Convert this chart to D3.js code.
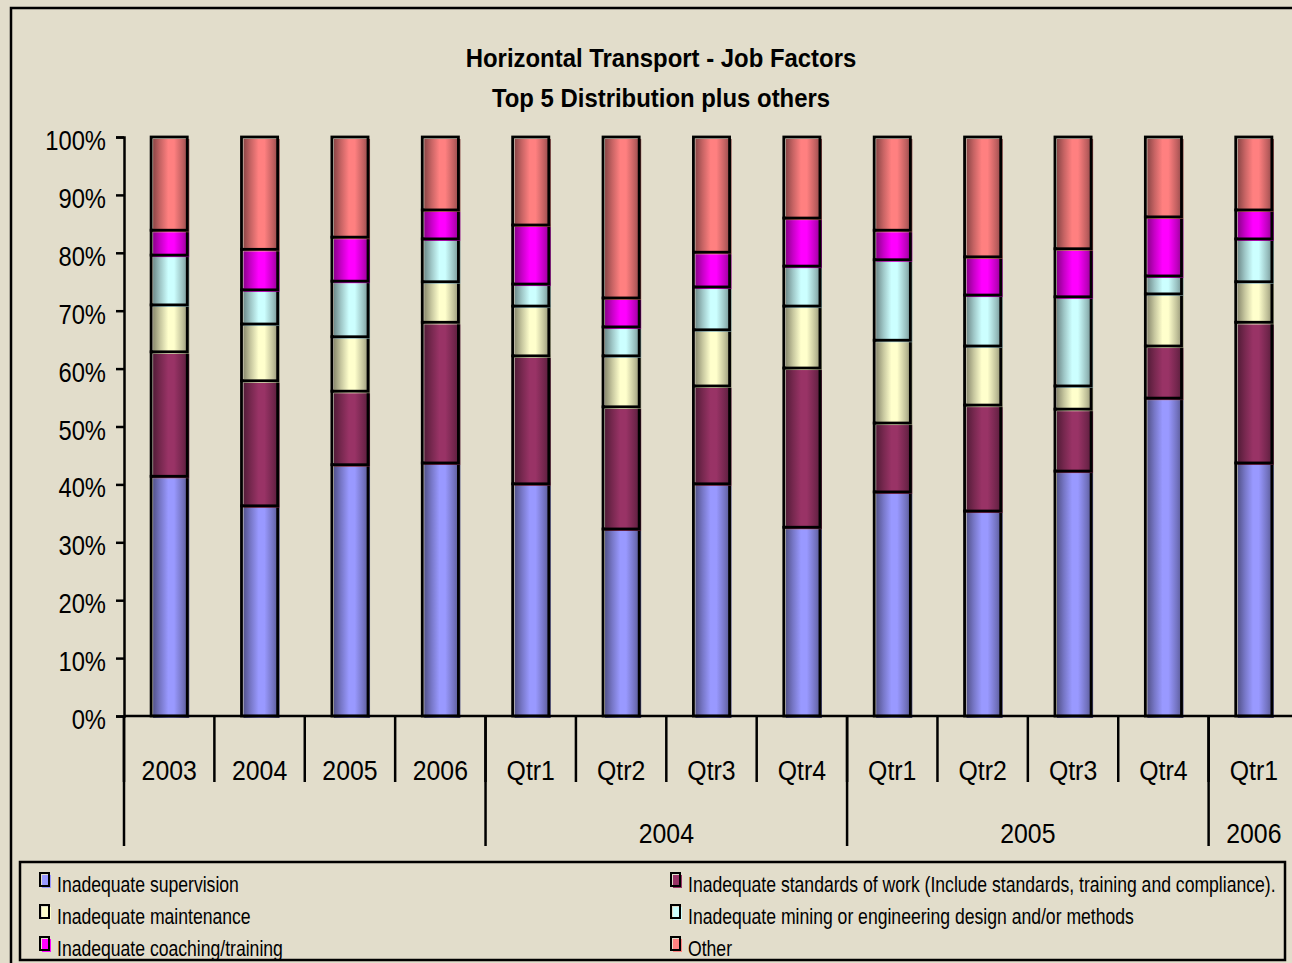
<!DOCTYPE html>
<html>
<head>
<meta charset="utf-8">
<script src="https://cdn.jsdelivr.net/npm/d3@7"></script>
<style>
  body { margin: 0; background: #E2DDCB; }
  svg { display: block; }
  text { font-family: "Liberation Sans", Arial, sans-serif; fill: #000; }
</style>
</head>
<body>
<script>
// categories along the x axis
const categories = ["2003", "2004", "2005", "2006",
    "Qtr1", "Qtr2", "Qtr3", "Qtr4",
    "Qtr1", "Qtr2", "Qtr3", "Qtr4",
    "Qtr1"];
// second row of labels: group names and how many categories each spans
const groupLabels = ["", "2004", "2005", "2006"];
const groupSizes = [4, 4, 4, 1];

const seriesNames = [
    "Inadequate supervision",
    "Inadequate standards of work (Include standards, training and compliance).",
    "Inadequate maintenance",
    "Inadequate mining or engineering design and/or methods",
    "Inadequate coaching/training",
    "Other"
];
const seriesColors = ["#9999FF", "#993366", "#FFFFCC", "#CCFFFF", "#FF00FF", "#FF8080"];

// percentage shares per category
const supervision = [41.4, 36.3, 43.4, 43.7, 40.1, 32.3, 40.1, 32.6, 38.7, 35.4, 42.3, 54.9, 43.7];
const standards   = [21.5, 21.6, 12.7, 24.3, 22.1, 21.1, 16.9, 27.5, 11.9, 18.3, 10.7,  9.0, 24.3];
const maintenance = [ 8.1,  9.8,  9.4,  7.0,  8.6,  8.8,  9.7, 10.7, 14.3, 10.2,  4.0,  9.0,  7.0];
const mining      = [ 8.6,  5.9,  9.6,  7.4,  3.8,  5.0,  7.4,  6.9, 13.9,  8.8, 15.4,  3.1,  7.4];
const coaching    = [ 4.3,  7.0,  7.6,  5.0, 10.2,  5.0,  6.0,  8.3,  5.1,  6.6,  8.3, 10.2,  5.0];
const other       = [16.1, 19.4, 17.3, 12.6, 15.2, 27.8, 19.9, 14.0, 16.1, 20.7, 19.3, 13.8, 12.6];

const yTicks = [0, 10, 20, 30, 40, 50, 60, 70, 80, 90, 100];

const width = 1292, height = 963;
const plotLeft = 124, plotRight = 1299, plotTop = 137, plotBottom = 716;

const svg = d3.select("body").append("svg")
    .attr("width", width)
    .attr("height", height);

// helper: draws a horizontally squeezed text (looks like Arial Narrow)
function narrowText(parent, x, y, str, size, sx, anchor, bold) {
    parent.append("g")
        .attr("transform", "translate(" + x + "," + y + ") scale(" + sx + ",1)")
        .append("text")
        .attr("font-size", size)
        .attr("font-weight", bold ? "bold" : "normal")
        .attr("text-anchor", anchor || "start")
        .text(str);
}

// outer chart border (runs off the right/bottom edges like the original)
svg.append("rect")
    .attr("x", 11).attr("y", 8)
    .attr("width", 1320).attr("height", 980)
    .attr("fill", "#E2DDCB")
    .attr("stroke", "#000").attr("stroke-width", 2.5);

// title
narrowText(svg, 661, 67, "Horizontal Transport - Job Factors", 26, 0.92, "middle", true);
narrowText(svg, 661, 107, "Top 5 Distribution plus others", 26, 0.92, "middle", true);

// cylinder-like gradients for each series
const defs = svg.append("defs");
seriesColors.forEach(function (c, i) {
    const base = d3.color(c);
    const g = defs.append("linearGradient")
        .attr("id", "grad" + i)
        .attr("x1", "0%").attr("x2", "100%").attr("y1", "0%").attr("y2", "0%");
    g.append("stop").attr("offset", "0%").attr("stop-color", base.darker(1.7));
    g.append("stop").attr("offset", "20%").attr("stop-color", base.darker(0.7));
    g.append("stop").attr("offset", "42%").attr("stop-color", base);
    g.append("stop").attr("offset", "58%").attr("stop-color", base);
    g.append("stop").attr("offset", "82%").attr("stop-color", base.darker(0.8));
    g.append("stop").attr("offset", "100%").attr("stop-color", base.darker(1.8));
});

const x = d3.scaleBand()
    .domain(d3.range(categories.length))
    .range([plotLeft, plotRight])
    .paddingInner(0.6)
    .paddingOuter(0.3);

const y = d3.scaleLinear()
    .domain([0, 100])
    .range([plotBottom, plotTop]);

// stack the series
const rows = categories.map(function (c, i) {
    return { i: i, s0: supervision[i], s1: standards[i], s2: maintenance[i],
             s3: mining[i], s4: coaching[i], s5: other[i] };
});
const stack = d3.stack().keys(["s0", "s1", "s2", "s3", "s4", "s5"]);
const stacked = stack(rows);

const layers = svg.append("g").selectAll("g")
    .data(stacked)
    .join("g");

// filled segment, shifted a little right (shadow look)
layers.selectAll("rect.fill")
    .data(function (d, k) { return d.map(function (p) { return { p: p, k: k }; }); })
    .join("rect")
    .attr("class", "fill")
    .attr("x", d => x(d.p.data.i) + 2)
    .attr("y", d => y(d.p[1]) + 2)
    .attr("width", x.bandwidth())
    .attr("height", d => y(d.p[0]) - y(d.p[1]))
    .attr("fill", d => "url(#grad" + d.k + ")");

// black outline of each segment
layers.selectAll("rect.edge")
    .data(function (d, k) { return d.map(function (p) { return { p: p, k: k }; }); })
    .join("rect")
    .attr("class", "edge")
    .attr("x", d => x(d.p.data.i))
    .attr("y", d => y(d.p[1]))
    .attr("width", x.bandwidth())
    .attr("height", d => y(d.p[0]) - y(d.p[1]))
    .attr("fill", "none")
    .attr("stroke", "#000")
    .attr("stroke-width", 2.8);

// y axis
const yAxis = svg.append("g")
    .attr("transform", "translate(" + plotLeft + ",0)")
    .call(d3.axisLeft(y).tickValues(yTicks).tickSize(8).tickFormat(""));
yAxis.select(".domain").attr("stroke", "#000").attr("stroke-width", 2.5);
yAxis.selectAll(".tick line").attr("stroke", "#000").attr("stroke-width", 2.5);
yTicks.forEach(function (t) {
    narrowText(svg, 106, y(t) + 13, t + "%", 27, 0.88, "end", false);
});

// x axis baseline
svg.append("line")
    .attr("x1", plotLeft).attr("x2", width + 20)
    .attr("y1", plotBottom).attr("y2", plotBottom)
    .attr("stroke", "#000").attr("stroke-width", 2.5);

// category separators and labels
const step = x.step();
const catLeft = i => x(i) - x.paddingOuter() * step;
categories.forEach(function (c, i) {
    svg.append("line")
        .attr("x1", catLeft(i)).attr("x2", catLeft(i))
        .attr("y1", plotBottom).attr("y2", 782)
        .attr("stroke", "#000").attr("stroke-width", 2.5);
    narrowText(svg, x(i) + x.bandwidth() / 2, 780, c, 27, 0.92, "middle", false);
});

// group separators and labels
let start = 0;
groupLabels.forEach(function (g, k) {
    const n = groupSizes[k];
    svg.append("line")
        .attr("x1", catLeft(start)).attr("x2", catLeft(start))
        .attr("y1", plotBottom).attr("y2", 846)
        .attr("stroke", "#000").attr("stroke-width", 2.5);
    let mid = (catLeft(start) + catLeft(start) + n * step) / 2;
    if (k === groupLabels.length - 1) mid = x(start) + x.bandwidth() / 2;
    narrowText(svg, mid, 843, g, 27, 0.92, "middle", false);
    start += n;
});

// legend
const legend = svg.append("g");
legend.append("rect")
    .attr("x", 20).attr("y", 862)
    .attr("width", 1265).attr("height", 98)
    .attr("fill", "none").attr("stroke", "#000").attr("stroke-width", 2.5);

const legendCols = [40, 671];
const legendRows = [884, 916, 948];
seriesNames.forEach(function (name, i) {
    const lx = legendCols[i % 2];
    const ly = legendRows[Math.floor(i / 2)];
    legend.append("rect")
        .attr("x", lx + 2).attr("y", ly - 9)
        .attr("width", 9).attr("height", 13)
        .attr("fill", seriesColors[i]);
    legend.append("rect")
        .attr("x", lx).attr("y", ly - 11)
        .attr("width", 9).attr("height", 13)
        .attr("fill", "none").attr("stroke", "#000").attr("stroke-width", 2);
    narrowText(legend, lx + 17, ly + 8, name, 22, 0.8, "start", false);
});
</script>
</body>
</html>
